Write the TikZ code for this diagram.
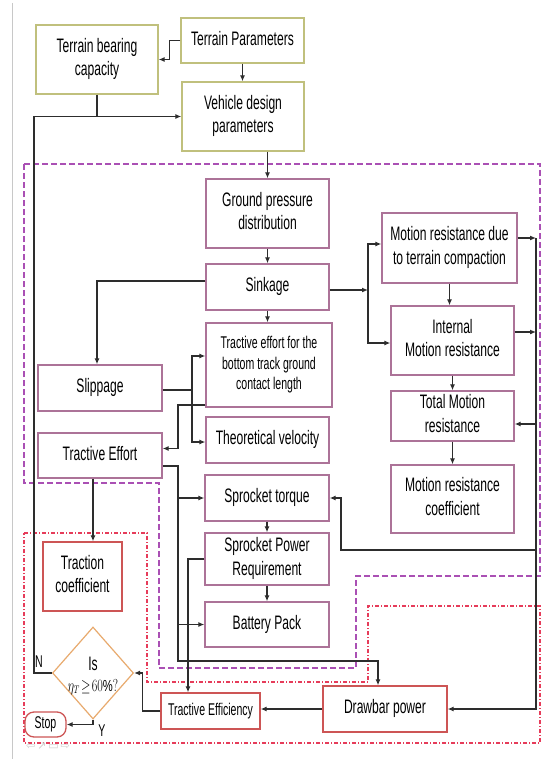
\documentclass[tikz,border=0pt]{standalone}
\usepackage{fontspec}
\setmainfont{Liberation Sans}
\newfontfamily\djv{DejaVu Sans}
\usepackage{graphicx}
\usetikzlibrary{arrows.meta,shapes.geometric,calc}
\definecolor{olv}{RGB}{192,192,125}
\definecolor{mauve}{RGB}{172,115,152}
\definecolor{rbox}{RGB}{205,85,85}
\definecolor{dorange}{RGB}{232,170,110}
\definecolor{pdash}{RGB}{170,80,180}
\definecolor{rdash}{RGB}{230,60,90}
\definecolor{lc}{RGB}{45,45,45}
\newcommand{\bt}[1]{\scalebox{0.62}[1]{\begin{tabular}{@{}c@{}}#1\end{tabular}}}
\begin{document}
\begin{tikzpicture}[x=1pt,y=-1pt,
  bx/.style={draw=#1, line width=1.3pt, fill=white, inner sep=0pt, text=black,
    font=\fontsize{19.5}{23.5}\selectfont},
  sbx/.style={bx=#1, font=\fontsize{17}{20.5}\selectfont},
  ln/.style={draw=lc, line width=1.2pt},
  arr/.style={ln, -{Latex[length=6pt,width=5pt]}},
  pdsh/.style={draw=pdash, line width=1.2pt, dash pattern=on 6pt off 3pt},
  rdsh/.style={draw=rdash, line width=1.1pt, dash pattern=on 4pt off 2pt on 1pt off 2pt},
  lbl/.style={inner sep=0pt, text=black, font=\fontsize{17}{20}\selectfont}]
\useasboundingbox (0,0) rectangle (551,759);
\fill[white] (0,0) rectangle (551,759);
% page edge line
\draw[draw={rgb,255:red,200;green,200;blue,200}, line width=1pt] (12,3) -- (12,759);
% regions
\draw[pdsh] (24,164) -- (540,164) -- (540,576) -- (356,576) -- (356,668) -- (159,668) -- (159,483) -- (24,483) -- cycle;
\draw[rdsh] (24,533) -- (147,533) -- (147,682) -- (368,682) -- (368,606) -- (540,606) -- (540,743) -- (24,743) -- cycle;
% nodes
\node[bx=olv, minimum width=122pt, minimum height=69pt] (tbc) at (97,59.5) {\bt{Terrain bearing\\capacity}};
\node[bx=olv, minimum width=123pt, minimum height=45pt] (tp) at (242.5,40.5) {\bt{Terrain Parameters}};
\node[bx=olv, minimum width=122pt, minimum height=69pt] (vdp) at (243,116.5) {\bt{Vehicle design\\parameters}};
\node[bx=mauve, minimum width=123pt, minimum height=69pt] (gpd) at (267.5,213.5) {\bt{Ground pressure\\distribution}};
\node[bx=mauve, minimum width=123pt, minimum height=46pt] (sink) at (267.5,287) {\bt{Sinkage}};
\node[sbx=mauve, minimum width=126pt, minimum height=84pt] (teb) at (269,365) {\bt{Tractive effort for the\\bottom track ground\\contact length}};
\node[bx=mauve, minimum width=123pt, minimum height=46pt] (tv) at (267.5,440) {\bt{Theoretical velocity}};
\node[bx=mauve, minimum width=124pt, minimum height=46pt] (slip) at (100,388) {\bt{Slippage}};
\node[bx=mauve, minimum width=124pt, minimum height=45pt] (teff) at (100,455.5) {\bt{Tractive Effort}};
\node[bx=mauve, minimum width=124pt, minimum height=46pt] (st) at (267,498) {\bt{Sprocket torque}};
\node[bx=mauve, minimum width=124pt, minimum height=52pt] (spr) at (267,559) {\bt{Sprocket Power\\Requirement}};
\node[bx=mauve, minimum width=124pt, minimum height=45pt] (bp) at (267,624.5) {\bt{Battery Pack}};
\node[bx=mauve, minimum width=135pt, minimum height=70pt] (mrdtc) at (449.5,248) {\bt{Motion resistance due\\to terrain compaction}};
\node[bx=mauve, minimum width=123pt, minimum height=69pt] (imr) at (452.5,340.5) {\bt{Internal\\Motion resistance}};
\node[bx=mauve, minimum width=123pt, minimum height=50pt] (tmr) at (452.5,416) {\bt{Total Motion\\resistance}};
\node[bx=mauve, minimum width=123pt, minimum height=68pt] (mrc) at (452.5,499) {\bt{Motion resistance\\coefficient}};
\node[bx=rbox, minimum width=79pt, minimum height=69pt] (tc) at (82.5,576.5) {\bt{Traction\\coefficient}};
\node[diamond, draw=dorange, line width=1.2pt, fill=white, minimum width=81pt, minimum height=92pt, inner sep=0pt] (dia) at (93,673) {};
\node[inner sep=0pt, text=black, font=\fontsize{19.5}{23.5}\selectfont] (dis) at (93,664) {\scalebox{0.62}[1]{Is}};
\node[inner sep=0pt, text=black, font=\fontsize{16}{18}\selectfont] (deta) at (93,687) {\scalebox{0.7}[1]{$\eta_{T}\!\geq\!60\%?$}};
\node[sbx=rbox, rounded corners=9pt, minimum width=41pt, minimum height=25pt] (stop) at (45.5,724.5) {\bt{Stop}};
\node[sbx=rbox, minimum width=99pt, minimum height=36pt] (tef) at (210.5,711) {\bt{Tractive Efficiency}};
\node[bx=rbox, minimum width=124pt, minimum height=46pt] (dbp) at (385,709) {\bt{Drawbar power}};
\node[lbl] (nl) at (39,662) {\scalebox{0.62}[1]{N}};
\node[lbl] (yl) at (102,731) {\scalebox{0.62}[1]{Y}};
\node[inner sep=0pt, text={rgb,255:red,205;green,205;blue,205}, font=\djv\fontsize{11}{11}\selectfont] (nav) at (48,746) {⇦\,↗\,▭\,⇨};
% junctions
\coordinate (jr) at (368,290);
\coordinate (js) at (192,390);
\coordinate (lp) at (34,116.5);
\coordinate (bt) at (536,238);
\coordinate (b1) at (536,424);
\coordinate (b2) at (536,550);
\coordinate (sr) at (341,550);
\coordinate (tv1) at (178,466);
\coordinate (tv2) at (178,661);
\coordinate (te1) at (178,405);
% connectors
\draw[arr] (tp.west) -- ++(-11,0) |- (tbc.east);
\draw[arr] (tp.south) -- (tp.south |- vdp.north);
\draw[ln] (tbc.south) -- (tbc.south |- vdp.west);
\draw[arr] (dia.west) -| (lp) -- (vdp.west);
\draw[arr] (vdp.south -| gpd.north) -- (gpd.north);
\draw[arr] (gpd.south) -- (sink.north);
\draw[arr] (sink.south) -- (sink.south |- teb.north);
\draw[arr] ([yshift=6pt]sink.west) -| ([xshift=-3pt]slip.north);
\draw[arr] (sink.east |- jr) -- (jr);
\draw[arr] (jr) |- ([yshift=4pt]mrdtc.west);
\draw[arr] (jr) |- ([yshift=-2.5pt]imr.west);
\draw[arr] (mrdtc.south) -- (mrdtc.south |- imr.north);
\draw[arr] (imr.south) -- (tmr.north);
\draw[arr] (tmr.south) -- (mrc.north);
\draw[arr] (mrdtc.east |- bt) -- (bt);
\draw[arr] ([yshift=8.5pt]imr.east) -- ([yshift=8.5pt]imr.east -| bt);
\draw[arr] (bt) |- (dbp.east);
\draw[arr] (b1) -- (b1 -| tmr.east);
\draw[arr] (b2) -- (sr) |- (st.east);
\draw[arr] (st.south) -- (spr.north);
\draw[arr] (spr.south) -- (bp.north);
\draw[ln] (slip.east |- js) -- (js);
\draw[arr] (js) |- ([yshift=9pt]teb.west);
\draw[arr] (js) |- ([yshift=-2pt]tv.west);
\draw[arr] (teb.west |- te1) -- (te1) |- ([yshift=7pt]teff.east);
\draw[arr] (teff.east |- tv1) -- (tv1) -- (tv2) -| ([xshift=-7pt]dbp.north);
\draw[arr] (tv1 |- st.west) -- (st.west);
\draw[arr] (tv1 |- bp.west) -- (bp.west);
\draw[arr] (spr.west) -| ([xshift=-22.5pt]tef.north);
\draw[arr] (dbp.west) -- (dbp.west -| tef.east);
\draw[arr] (tef.west) -- ++(-18,0) |- (dia.east);
\draw[arr] ([xshift=-7pt]teff.south) -- ([xshift=-7pt]teff.south |- tc.north);
\draw[arr] (dia.south) |- (stop.east);
\end{tikzpicture}
\end{document}
